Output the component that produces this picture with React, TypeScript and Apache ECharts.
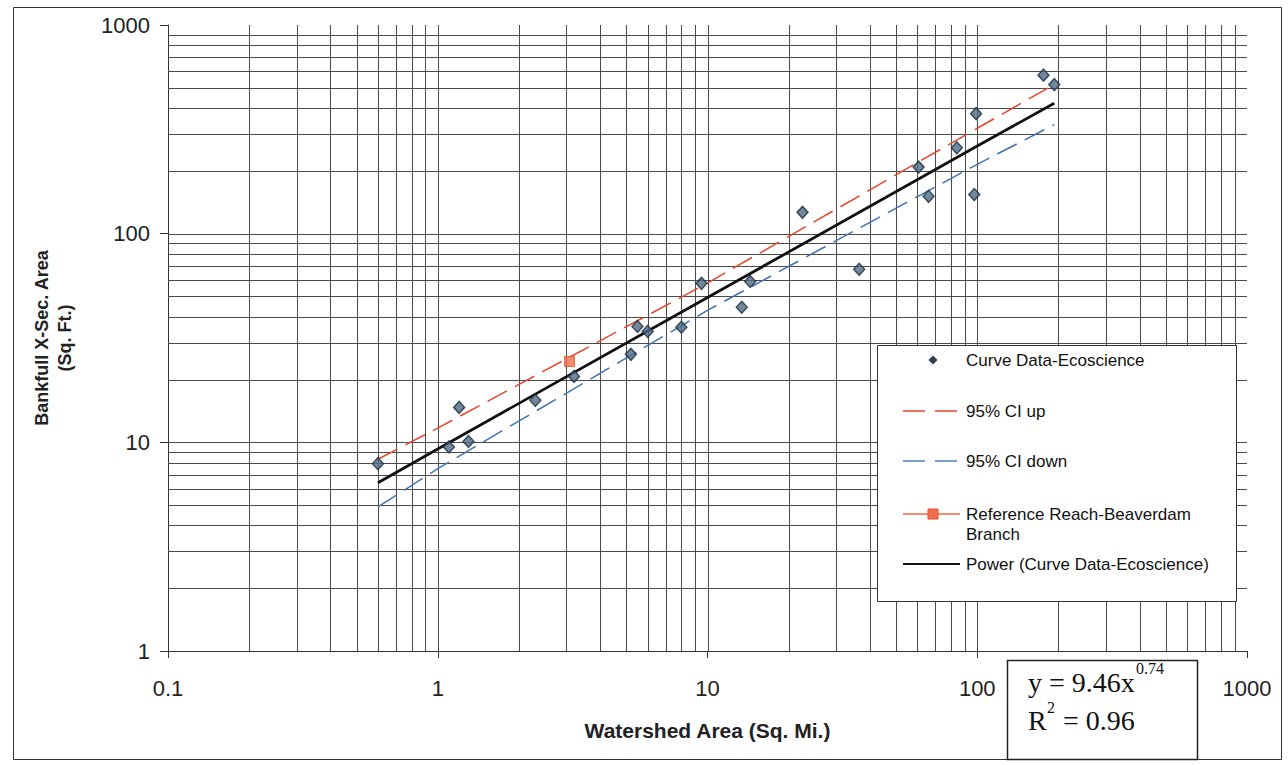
import { useEffect, useRef } from "react";
import * as echarts from "echarts";

// Curve data (watershed area sq. mi., bankfull x-sec area sq. ft.)
const curveData: [number, number][] = [
  [0.6, 7.9], [1.1, 9.5], [1.2, 14.7], [1.3, 10.1], [2.3, 15.9], [3.2, 20.7],
  [5.2, 26.4], [5.5, 35.9], [6.0, 34], [8.0, 35.6], [9.5, 57.8], [13.4, 44.4],
  [14.4, 59], [22.5, 126.5], [36.5, 67.5], [60.6, 208.5], [66, 151], [84, 258],
  [99, 376], [97.5, 154], [176, 575], [193, 518],
];
const referenceReach: [number, number][] = [[3.08, 24.4]];
const ciUp: [number, number][] = [[0.6, 8.3], [1, 11.7], [10, 58], [100, 320], [193, 519]];
const ciDown: [number, number][] = [[0.6, 4.9], [1, 7.48], [10, 42.9], [100, 215], [193, 333]];
const powerFit: [number, number][] = [[0.6, 6.4], [1, 9.3], [10, 49.4], [100, 263], [193, 422]];

// grid line positions (log grid)
const gridX: number[] = [
  0.2, 0.3, 0.4, 0.5, 0.6, 0.7, 0.8, 0.9, 1, 2, 3, 4, 5, 6, 7, 8, 9, 10,
  20, 30, 40, 50, 60, 70, 80, 90, 100, 200, 300, 400, 500, 600, 700, 800, 900,
];
const gridY: number[] = [
  2, 3, 4, 5, 6, 7, 8, 9, 10, 20, 30, 40, 50, 60, 70, 80, 90, 100,
  200, 300, 400, 500, 600, 700, 800, 900,
];

const SANS = "'Liberation Sans', Arial, sans-serif";
const SERIF = "'Liberation Serif', 'Times New Roman', serif";
const GRID_COLOR = "#4a4a4a";

export default function App() {
  const ref = useRef<HTMLDivElement>(null);
  useEffect(() => {
    document.body.style.margin = "0";
    if (!ref.current) return;
    const chart = echarts.init(ref.current, null, { renderer: "svg" });
    const fmt = (v: number) => (v < 1 ? v.toFixed(1) : String(Math.round(v)));
    const legendText = (text: string, y: number) => ({
      type: "text", z: 101, x: 966, y,
      style: { text, fill: "#111", font: `17px ${SANS}`, textVerticalAlign: "middle" },
    });
    const option: any = {
      animation: false,
      backgroundColor: "#fff",
      textStyle: { fontFamily: SANS },
      grid: { left: 168, right: 41, top: 25, bottom: 114, containLabel: false },
      xAxis: {
        type: "log", logBase: 10, min: 0.1, max: 1000,
        name: "Watershed Area (Sq. Mi.)", nameLocation: "middle", nameGap: 69,
        nameTextStyle: { fontSize: 21, fontWeight: "bold", color: "#222", fontFamily: SANS },
        axisLine: { show: true, lineStyle: { color: "#333", width: 1 } },
        axisTick: { show: true, length: 7, lineStyle: { color: "#333" } },
        axisLabel: { formatter: fmt, fontSize: 22, color: "#222", margin: 26, fontFamily: SANS },
        splitLine: { show: false },
      },
      yAxis: {
        type: "log", logBase: 10, min: 1, max: 1000,
        name: "Bankfull X-Sec. Area\n(Sq. Ft.)", nameLocation: "middle", nameGap: 92,
        nameTextStyle: { fontSize: 18, fontWeight: "bold", color: "#222", lineHeight: 23, fontFamily: SANS },
        axisLine: { show: true, lineStyle: { color: "#333", width: 1 } },
        axisTick: { show: true, length: 8, lineStyle: { color: "#333" } },
        axisLabel: { formatter: fmt, fontSize: 22, color: "#222", margin: 18, fontFamily: SANS },
        splitLine: { show: false },
      },
      series: [
        {
          type: "custom", name: "vgrid", z: 1, silent: true,
          data: gridX.map((v) => [v, 1]),
          renderItem: (params: any, api: any) => {
            const p1 = api.coord([api.value(0), 1]);
            const p2 = api.coord([api.value(0), 1000]);
            const x = Math.round(p1[0]) + 0.5;
            return { type: "line", shape: { x1: x, y1: p1[1], x2: x, y2: p2[1] }, style: { stroke: GRID_COLOR, lineWidth: 1 } };
          },
        },
        {
          type: "custom", name: "hgrid", z: 1, silent: true,
          data: gridY.map((v) => [0.1, v]),
          renderItem: (params: any, api: any) => {
            const p1 = api.coord([0.1, api.value(1)]);
            const p2 = api.coord([1000, api.value(1)]);
            const y = Math.round(p1[1]) + 0.5;
            return { type: "line", shape: { x1: p1[0], y1: y, x2: p2[0], y2: y }, style: { stroke: GRID_COLOR, lineWidth: 1 } };
          },
        },
        {
          type: "line", name: "95% CI up", data: ciUp, symbol: "none", z: 3,
          lineStyle: { color: "#e8452c", width: 1.5, type: [22, 9] },
        },
        {
          type: "line", name: "95% CI down", data: ciDown, symbol: "none", z: 3,
          lineStyle: { color: "#3f72b5", width: 1.5, type: [22, 9] },
        },
        {
          type: "line", name: "Power (Curve Data-Ecoscience)", data: powerFit, symbol: "none", z: 4,
          lineStyle: { color: "#111", width: 2.8 },
        },
        {
          type: "scatter", name: "Curve Data-Ecoscience", data: curveData, symbol: "diamond",
          symbolSize: [11, 12], z: 5,
          itemStyle: { color: "#4f6a86", borderColor: "#1f2f40", borderWidth: 1.5 },
        },
        {
          type: "scatter", name: "Reference Reach-Beaverdam Branch", data: referenceReach, symbol: "rect",
          symbolSize: 10, z: 6,
          itemStyle: { color: "#f26d4b", borderColor: "#e4522f", borderWidth: 1 },
        },
      ],
      graphic: [
        { type: "rect", z: 100, shape: { x: 13.5, y: 7.5, width: 1268, height: 752 }, style: { fill: "none", stroke: "#333", lineWidth: 1 } },
        // legend
        { type: "rect", z: 100, shape: { x: 877.5, y: 345.5, width: 359, height: 256 }, style: { fill: "#fff", stroke: "#333", lineWidth: 1 } },
        { type: "polygon", z: 101, shape: { points: [[933, 355.5], [937.5, 360], [933, 364.5], [928.5, 360]] }, style: { fill: "#2e3e55" } },
        legendText("Curve Data-Ecoscience", 360),
        { type: "line", z: 101, shape: { x1: 903, y1: 411, x2: 925, y2: 411 }, style: { stroke: "#e8452c", lineWidth: 1.5 } },
        { type: "line", z: 101, shape: { x1: 935, y1: 411, x2: 957, y2: 411 }, style: { stroke: "#e8452c", lineWidth: 1.5 } },
        legendText("95% CI up", 411),
        { type: "line", z: 101, shape: { x1: 903, y1: 461, x2: 925, y2: 461 }, style: { stroke: "#4a7bb5", lineWidth: 1.5 } },
        { type: "line", z: 101, shape: { x1: 935, y1: 461, x2: 957, y2: 461 }, style: { stroke: "#4a7bb5", lineWidth: 1.5 } },
        legendText("95% CI down", 461),
        { type: "line", z: 101, shape: { x1: 903, y1: 514, x2: 960, y2: 514 }, style: { stroke: "#f06a45", lineWidth: 1.5 } },
        { type: "rect", z: 102, shape: { x: 928, y: 509, width: 10, height: 10 }, style: { fill: "#f26d4b", stroke: "#e4522f", lineWidth: 1 } },
        legendText("Reference Reach-Beaverdam", 514),
        legendText("Branch", 534),
        { type: "line", z: 101, shape: { x1: 903, y1: 564, x2: 960, y2: 564 }, style: { stroke: "#111", lineWidth: 2 } },
        legendText("Power (Curve Data-Ecoscience)", 564),
        // equation box
        { type: "rect", z: 100, shape: { x: 1007.5, y: 660.5, width: 190, height: 99 }, style: { fill: "#fff", stroke: "#222", lineWidth: 1.5 } },
        { type: "text", z: 101, x: 1028, y: 682, style: { text: "y = 9.46x", fill: "#111", font: `28px ${SERIF}`, textVerticalAlign: "middle" } },
        { type: "text", z: 101, x: 1136, y: 668, style: { text: "0.74", fill: "#111", font: `16px ${SERIF}`, textVerticalAlign: "middle" } },
        { type: "text", z: 101, x: 1028, y: 720, style: { text: "R", fill: "#111", font: `28px ${SERIF}`, textVerticalAlign: "middle" } },
        { type: "text", z: 101, x: 1047, y: 707, style: { text: "2", fill: "#111", font: `16px ${SERIF}`, textVerticalAlign: "middle" } },
        { type: "text", z: 101, x: 1056, y: 720, style: { text: " = 0.96", fill: "#111", font: `28px ${SERIF}`, textVerticalAlign: "middle" } },
      ],
    };
    chart.setOption(option);
    return () => chart.dispose();
  }, []);
  return <div ref={ref} style={{ width: 1288, height: 765 }} />;
}
